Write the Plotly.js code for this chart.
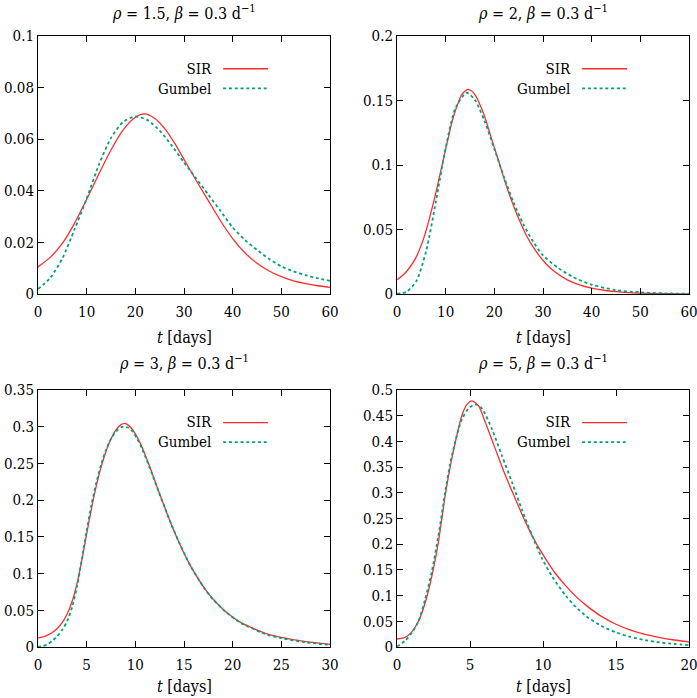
<!DOCTYPE html>
<html>
<head>
<meta charset="utf-8">
<script src="https://cdn.plot.ly/plotly-3.0.1.min.js"></script>
<style>
html,body{margin:0;padding:0;background:#fff}
#chart{width:697px;height:698px}
</style>
</head>
<body>
<div id="chart"></div>
<script>
// ---- Panel 1: rho = 1.5 ----
const t1Sir = [0, 2.5, 5, 7.5, 10, 12.5, 15, 17.5, 20, 22, 24, 26, 28, 30, 32.5, 35, 37.5, 40, 42.5, 45, 47.5, 50, 52.5, 55, 57.5, 60];
const v1Sir = [0.0105, 0.0142, 0.0196, 0.0274, 0.0367, 0.0465, 0.0558, 0.0636, 0.0685, 0.0698, 0.0680, 0.0642, 0.0587, 0.0522, 0.0440, 0.0362, 0.0284, 0.0215, 0.0160, 0.0119, 0.0089, 0.0067, 0.0051, 0.0040, 0.0032, 0.0026];
const t1Gum = [0, 2.5, 5, 7.5, 10, 12.5, 15, 17.5, 20, 22.5, 25, 27.5, 30, 32.5, 35, 37.5, 40, 42.5, 45, 47.5, 50, 52.5, 55, 57.5, 60];
const v1Gum = [0.0019, 0.0062, 0.0138, 0.0250, 0.0370, 0.0500, 0.0605, 0.0667, 0.0688, 0.0674, 0.0633, 0.0575, 0.0510, 0.0448, 0.0385, 0.0322, 0.0258, 0.0210, 0.0171, 0.0136, 0.0107, 0.0088, 0.0073, 0.0061, 0.0051];

// ---- Panel 2: rho = 2 ----
const t2Sir = [0, 1.2, 2.3, 3.8, 5.6, 7.8, 9.3, 10.5, 11.5, 12.5, 13.3, 14.2, 14.6, 15.0, 15.9, 17.7, 19.7, 21.0, 22.4, 24.2, 26.6, 28.3, 30.6, 32.5, 35, 37.5, 40, 42.5, 45, 47.5, 50, 55, 60];
const v2Sir = [0.0110, 0.0145, 0.0190, 0.0276, 0.0445, 0.0755, 0.1005, 0.1205, 0.1362, 0.1474, 0.1545, 0.1580, 0.1586, 0.1581, 0.1552, 0.1409, 0.1170, 0.1018, 0.0847, 0.0659, 0.0454, 0.0346, 0.0235, 0.0170, 0.0109, 0.0070, 0.0045, 0.0029, 0.0018, 0.0011, 0.0007, 0.0003, 0.0001];
const t2Gum = [0, 2, 4, 6, 8, 10, 12, 14.3, 16, 18, 20, 22, 24, 26, 28, 30, 33, 36, 40, 45, 50, 55, 60];
const v2Gum = [0.0002, 0.0018, 0.0102, 0.0335, 0.0718, 0.1134, 0.1439, 0.1560, 0.1505, 0.1340, 0.1125, 0.0904, 0.0705, 0.0538, 0.0404, 0.0300, 0.0205, 0.0135, 0.0072, 0.0030, 0.0013, 0.0005, 0.0002];

// ---- Panel 3: rho = 3 ----
const t3Sir = [0, 0.5, 1, 1.5, 2, 2.5, 3, 3.5, 4, 4.5, 5, 5.5, 6, 6.5, 7, 7.5, 8, 8.5, 8.9, 9.3, 9.75, 10.21, 10.69, 11.19, 11.74, 12.32, 12.99, 13.73, 14.62, 15.68, 17.09, 18.0, 19.18, 20.81, 23.53, 25, 27.5, 30];
const v3Sir = [0.0124, 0.0138, 0.0162, 0.0200, 0.0255, 0.0335, 0.0450, 0.0620, 0.0860, 0.1180, 0.1540, 0.1890, 0.2200, 0.2460, 0.2670, 0.2835, 0.2955, 0.3025, 0.3045, 0.3018, 0.2955, 0.2854, 0.2720, 0.2555, 0.2364, 0.2149, 0.1913, 0.1658, 0.1387, 0.1102, 0.0803, 0.0650, 0.0494, 0.0335, 0.0178, 0.0130, 0.0072, 0.0036];
const t3Gum = [0, 0.5, 1, 1.5, 2, 2.5, 3, 3.5, 4, 4.5, 5, 5.5, 6, 6.5, 7, 7.5, 8, 8.5, 8.8, 9.3, 9.75, 10.21, 10.69, 11.19, 11.74, 12.32, 12.99, 13.73, 14.62, 15.68, 17.09, 18.0, 19.18, 20.81, 23.53, 25, 27.5, 30];
const v3Gum = [0.0003, 0.0012, 0.0040, 0.0085, 0.0150, 0.0235, 0.0355, 0.0540, 0.0820, 0.1190, 0.1580, 0.1940, 0.2240, 0.2490, 0.2690, 0.2835, 0.2935, 0.2990, 0.3000, 0.2985, 0.2930, 0.2830, 0.2700, 0.2540, 0.2350, 0.2140, 0.1910, 0.1660, 0.1390, 0.1100, 0.0800, 0.0645, 0.0490, 0.0330, 0.0168, 0.0120, 0.0064, 0.0030];

// ---- Panel 4: rho = 5 ----
const t4Sir = [0, 0.55, 1.0, 1.47, 1.92, 2.38, 2.84, 3.3, 3.64, 3.99, 4.44, 4.79, 5.13, 5.59, 6.05, 6.74, 7.42, 8.11, 8.8, 9.48, 10.17, 10.86, 11.55, 12.25, 13, 14, 15, 16, 17, 18, 19, 20];
const v4Sir = [0.0155, 0.0187, 0.029, 0.050, 0.085, 0.137, 0.205, 0.295, 0.350, 0.398, 0.450, 0.472, 0.479, 0.469, 0.437, 0.385, 0.334, 0.288, 0.243, 0.2045, 0.172, 0.1425, 0.1195, 0.0985, 0.0800, 0.0595, 0.0443, 0.0330, 0.0246, 0.0183, 0.0136, 0.0101];
const t4Gum = [0, 0.55, 1.0, 1.47, 1.92, 2.38, 2.84, 3.3, 3.64, 3.99, 4.44, 4.9, 5.36, 5.82, 6.5, 7.19, 7.88, 8.57, 9.25, 9.94, 10.63, 11.55, 12.25, 13, 14, 15, 16, 17, 18, 19, 20];
const v4Gum = [0.001, 0.012, 0.027, 0.050, 0.092, 0.146, 0.217, 0.301, 0.356, 0.400, 0.443, 0.464, 0.472, 0.464, 0.424, 0.372, 0.320, 0.266, 0.217, 0.172, 0.137, 0.100, 0.078, 0.059, 0.041, 0.0285, 0.0195, 0.0132, 0.0089, 0.0058, 0.0037];

// ---- Ticks ----
const xTicks1 = [0, 10, 20, 30, 40, 50, 60];
const xTicks3 = [0, 5, 10, 15, 20, 25, 30];
const xTicks4 = [0, 5, 10, 15, 20];
const yTicks1 = [0, 0.02, 0.04, 0.06, 0.08, 0.1];
const yTicks2 = [0, 0.05, 0.1, 0.15, 0.2];
const yTicks3 = [0, 0.05, 0.1, 0.15, 0.2, 0.25, 0.3, 0.35];
const yTicks4 = [0, 0.05, 0.1, 0.15, 0.2, 0.25, 0.3, 0.35, 0.4, 0.45, 0.5];

const panelTitles = [
  '<i>ρ</i> = 1.5, <i>β</i> = 0.3 d<sup>−1</sup>',
  '<i>ρ</i> = 2, <i>β</i> = 0.3 d<sup>−1</sup>',
  '<i>ρ</i> = 3, <i>β</i> = 0.3 d<sup>−1</sup>',
  '<i>ρ</i> = 5, <i>β</i> = 0.3 d<sup>−1</sup>'
];
const seriesNames = ['SIR', 'Gumbel'];
const xLabel = '<i>t</i> [days]';

const RED = '#ff2b2b';
const TEAL = '#00a07a';
const FONT = '"DejaVu Serif Condensed", "DejaVu Serif", serif';

function sirTrace(x, y, ax) {
  return {x: x, y: y, xaxis: 'x' + ax, yaxis: 'y' + ax, type: 'scatter', mode: 'lines',
    name: seriesNames[0], line: {color: RED, width: 1.3, shape: 'spline', smoothing: 0.7}, hoverinfo: 'skip'};
}
function gumTrace(x, y, ax) {
  return {x: x, y: y, xaxis: 'x' + ax, yaxis: 'y' + ax, type: 'scatter', mode: 'lines',
    name: seriesNames[1], line: {color: TEAL, width: 1.8, dash: '3px,2.8px', shape: 'spline', smoothing: 0.7}, hoverinfo: 'skip'};
}

const data = [
  sirTrace(t1Sir, v1Sir, ''), gumTrace(t1Gum, v1Gum, ''),
  sirTrace(t2Sir, v2Sir, '2'), gumTrace(t2Gum, v2Gum, '2'),
  sirTrace(t3Sir, v3Sir, '3'), gumTrace(t3Gum, v3Gum, '3'),
  sirTrace(t4Sir, v4Sir, '4'), gumTrace(t4Gum, v4Gum, '4')
];

const W = 697, H = 698;
const colX = [[38 / W, 330 / W], [397 / W, 689 / W]];
const rowY = [[1 - 294 / H, 1 - 36 / H], [1 - 647 / H, 1 - 390 / H]];

function axisBase() {
  return {showline: true, linecolor: '#000', linewidth: 1, mirror: 'ticks', ticks: 'inside',
    ticklen: 6, tickwidth: 1, tickcolor: '#000', showgrid: false, zeroline: false,
    ticklabeloverflow: 'allow',
    tickfont: {family: FONT, size: 15, color: '#000'}, fixedrange: true};
}
function xAxis(dom, anchor, range, ticks) {
  return Object.assign(axisBase(), {domain: dom, anchor: anchor, range: range,
    tickmode: 'array', tickvals: ticks, ticktext: ticks.map(String), ticklabelstandoff: 4});
}
function yAxis(dom, anchor, range, ticks) {
  return Object.assign(axisBase(), {domain: dom, anchor: anchor, range: range,
    tickmode: 'array', tickvals: ticks, ticktext: ticks.map(String)});
}

const annotations = [];
const shapes = [];
const axIds = ['', '2', '3', '4'];
axIds.forEach(function (id, i) {
  const col = i % 2, row = Math.floor(i / 2);
  const cx = (colX[col][0] + colX[col][1]) / 2;
  annotations.push({text: panelTitles[i], xref: 'paper', yref: 'paper', x: cx,
    y: row === 0 ? 1 - 13 / H : 1 - 362 / H, xanchor: 'center', yanchor: 'middle',
    showarrow: false, font: {family: FONT, size: 16, color: '#000'}});
  annotations.push({text: xLabel, xref: 'paper', yref: 'paper', x: cx,
    y: row === 0 ? 1 - 337 / H : 1 - 686 / H, xanchor: 'center', yanchor: 'middle',
    showarrow: false, font: {family: FONT, size: 16, color: '#000'}});
  const xr = 'x' + id + ' domain', yr = 'y' + id + ' domain';
  // legend block: both entries in one right-aligned text
  annotations.push({text: seriesNames.join('<br>'), xref: xr, yref: yr, x: 0.600, y: 0.835,
    xanchor: 'right', yanchor: 'middle', align: 'right', showarrow: false, borderpad: 0,
    font: {family: FONT, size: 15, color: '#000'}});
  const yS = 0.873, yG = 0.797;
  shapes.push({type: 'line', xref: xr, yref: yr, x0: 0.634, x1: 0.788, y0: yS, y1: yS,
    line: {color: RED, width: 1.3}});
  shapes.push({type: 'line', xref: xr, yref: yr, x0: 0.634, x1: 0.788, y0: yG, y1: yG,
    line: {color: TEAL, width: 1.8, dash: '3px,2.8px'}});
});

const layout = {
  width: W, height: H,
  margin: {l: 0, r: 0, t: 0, b: 0},
  paper_bgcolor: '#fff', plot_bgcolor: '#fff',
  showlegend: false,
  font: {family: FONT, size: 16, color: '#000'},
  xaxis: xAxis(colX[0], 'y', [0, 60], xTicks1),
  yaxis: yAxis(rowY[0], 'x', [0, 0.1], yTicks1),
  xaxis2: xAxis(colX[1], 'y2', [0, 60], xTicks1),
  yaxis2: yAxis(rowY[0], 'x2', [0, 0.2], yTicks2),
  xaxis3: xAxis(colX[0], 'y3', [0, 30], xTicks3),
  yaxis3: yAxis(rowY[1], 'x3', [0, 0.35], yTicks3),
  xaxis4: xAxis(colX[1], 'y4', [0, 20], xTicks4),
  yaxis4: yAxis(rowY[1], 'x4', [0, 0.5], yTicks4),
  annotations: annotations,
  shapes: shapes
};

Plotly.newPlot('chart', data, layout, {displayModeBar: false, staticPlot: true});
</script>
</body>
</html>
